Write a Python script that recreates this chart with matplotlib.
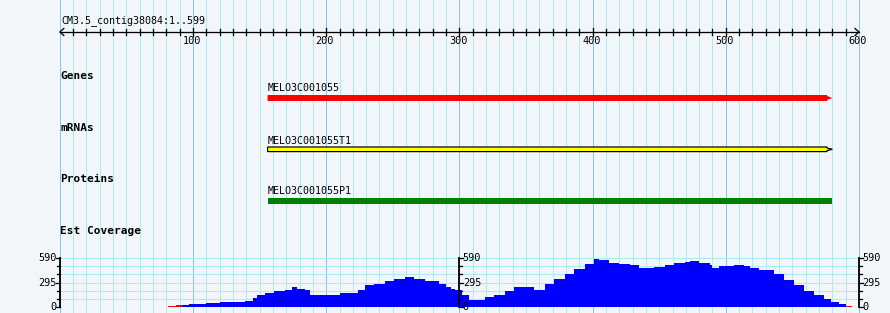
import numpy as np
import matplotlib
matplotlib.use('Agg')
import matplotlib.pyplot as plt

# data
ref_name = 'CM3.5_contig38084:1..599'
ref_len = 599
ruler_labels = [100, 200, 300, 400, 500, 600]

track_names = ['Genes', 'mRNAs', 'Proteins', 'Est Coverage']
feat_names = ['MELO3C001055', 'MELO3C001055T1', 'MELO3C001055P1']
feat_start = 156
feat_end = 580

cov_pos = [92, 97, 110, 120, 139, 145, 148, 154, 161, 169, 174, 178, 184, 188,
           191, 210, 221, 224, 229, 236, 244, 251, 259, 266, 274, 285, 290, 294,
           297, 302, 307, 311, 319, 326, 334, 341, 349, 356, 364, 371, 379, 386,
           394, 401, 405, 412, 420, 428, 435, 446, 454, 461, 469, 473, 480, 488,
           490, 495, 506, 514, 518, 525, 533, 536, 544, 551, 559, 566, 574, 579,
           585]
cov_depth = [28, 35, 50, 60, 75, 110, 140, 165, 190, 205, 240, 220, 200, 150,
             150, 165, 165, 200, 260, 280, 310, 340, 360, 340, 310, 280, 240, 220,
             210, 150, 90, 90, 120, 150, 190, 240, 240, 210, 280, 340, 400, 460,
             520, 580, 565, 535, 520, 500, 470, 480, 500, 530, 540, 550, 530, 500,
             470, 495, 510, 490, 470, 440, 440, 400, 320, 260, 190, 140, 100, 60,
             35]
cov_end = 590
low_pos = [81, 87, 590]
low_depth = [10, 25, 10]
low_end = [87, 92, 595]
cov_max = 590

BG = '#f2f5fa'
MINOR = '#a8ecef'
MAJOR = '#82c8ee'
MONO = 'DejaVu Sans Mono'
PX = 0.72  # one pixel line width

W, H = 890, 313
fig = plt.figure(figsize=(W / 100, H / 100), dpi=100, facecolor=BG)

# pixel x = 59.8 + bp * 1.332
x0, scale = 59.8, 1.332
xlim = (-x0 / scale, (W - x0) / scale)

ax = fig.add_axes([0, 0, 1, 1])
ax.set_xlim(*xlim)
ax.set_ylim(H, 0)
ax.set_facecolor(BG)
ax.axis('off')

# background grid
for p in range(0, 601, 10):
    ax.axvline(p, color=MAJOR if p % 100 == 0 else MINOR, lw=PX, zorder=0)

# ruler
ax.plot([0, ref_len + 1], [32, 32], color='black', lw=PX * 1.3)
ax.plot([3, 0, 3], [28.5, 32, 35.5], color='black', lw=PX * 1.3)
ax.plot([ref_len - 2, ref_len + 1, ref_len - 2], [28.5, 32, 35.5], color='black', lw=PX * 1.3)
for p in range(10, 600, 10):
    if p % 100 == 0:
        ax.plot([p, p], [28, 36], color='black', lw=PX * 1.3)
    else:
        ax.plot([p, p], [29, 35], color='black', lw=PX * 1.3)
for p in ruler_labels:
    ax.text(p - 1, 41.5, str(p), ha='center', va='center', fontsize=7.4, family=MONO)
ax.text(1, 21, ref_name, ha='left', va='center', fontsize=7.2, family=MONO)

# track labels
for name, y in zip(track_names, [76, 128, 179, 231]):
    ax.text(0.5, y, name, ha='left', va='center', fontsize=8, family=MONO,
            fontweight='bold')

# features
ax.text(feat_start, 88, feat_names[0], ha='left', va='center', fontsize=7.2, family=MONO)
ax.text(feat_start, 140.5, feat_names[1], ha='left', va='center', fontsize=7.2, family=MONO)
ax.text(feat_start, 191, feat_names[2], ha='left', va='center', fontsize=7.2, family=MONO)

ax.fill([feat_start, feat_end - 4, feat_end - 4, feat_end, feat_end - 4, feat_end - 4, feat_start],
        [95, 95, 96, 98, 100, 101, 101], color='#ff0000', lw=0)
ax.fill([feat_start, feat_end - 4, feat_end - 4, feat_end, feat_end - 4, feat_end - 4, feat_start],
        [147, 147, 148, 149.3, 150.6, 151.6, 151.6], facecolor='#ffff00',
        edgecolor='black', lw=PX * 1.2, joinstyle='miter')
ax.fill([feat_start, feat_end, feat_end, feat_start], [198, 198, 204, 204],
        color='#008000', lw=0)

# coverage panel
ax2 = fig.add_axes([0, 6 / H, 1, 49 / H])
ax2.set_xlim(*xlim)
ax2.set_ylim(0, cov_max)
ax2.axis('off')
ax2.patch.set_alpha(0)

steps = np.linspace(0, cov_max, 7)
for v in steps:
    ax2.plot([0, 600], [v, v], color=MINOR, lw=PX, zorder=0)

xs = cov_pos + [cov_end]
ys = cov_depth + [cov_depth[-1]]
ax2.fill_between(xs, 0, ys, step='post', color='#0000ff', lw=0, zorder=1)
for s, e, d in zip(low_pos, low_end, low_depth):
    ax2.fill_between([s, e], 0, [d, d], step='post', color='#ff0000', lw=0, zorder=1)

tick = 3
for p, side in [(0, -1), (300, 1), (600, 1)]:
    ax2.plot([p, p], [0, cov_max], color='black', lw=1.3, zorder=3, clip_on=False)
    for i, v in enumerate(steps):
        ln = tick if i % 3 == 0 else tick * 0.7
        ax2.plot([p, p + side * ln], [v, v], color='black', lw=PX * 1.3, zorder=3, clip_on=False)
    for v in [0, 295, 590]:
        ax2.text(p + side * 2.5, v, str(v), ha='right' if side < 0 else 'left',
                 va='center', fontsize=7.4, family=MONO, zorder=4, clip_on=False)

fig.savefig('out.png', dpi=100, facecolor=BG)
